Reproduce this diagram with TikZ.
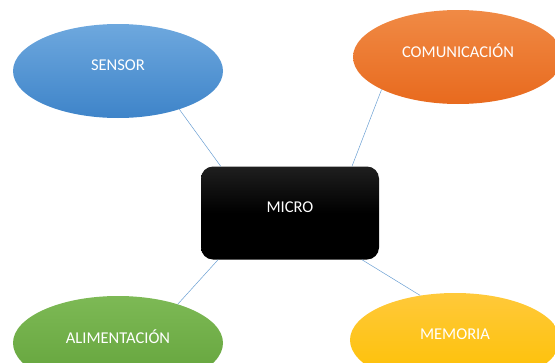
\documentclass[tikz,border=0pt]{standalone}
\usepackage{fontspec}
\setmainfont{Carlito}
\usepackage{tikz}
\usetikzlibrary{positioning,shapes.geometric}
\definecolor{sensorTop}{HTML}{6EA8DE}
\definecolor{sensorBot}{HTML}{3E84C9}
\definecolor{commTop}{HTML}{F08A45}
\definecolor{commBot}{HTML}{E86A1E}
\definecolor{powerTop}{HTML}{7DB955}
\definecolor{powerBot}{HTML}{62A23A}
\definecolor{memTop}{HTML}{FFC93A}
\definecolor{memBot}{HTML}{FDC000}
\definecolor{linkBlue}{HTML}{6A9FD3}

\begin{document}
\begin{tikzpicture}[x=1pt,y=-1pt,node distance=2cm,on grid,
    blob/.style={ellipse,minimum width=210pt,minimum height=94pt,inner sep=0pt,
        text=white,font=\fontsize{16.5}{19}\selectfont,text depth=12pt},
    link/.style={draw=linkBlue,line width=0.5pt}]
            \useasboundingbox (0,0) rectangle (555,362);
            \node[rectangle,rounded corners=12pt,minimum width=178pt,minimum height=93pt,
                top color=black!88,bottom color=black,middle color=black,text=white,
                font=\fontsize{16.5}{19}\selectfont,text depth=12pt] (micro) at (290,213) {MICRO};
            \node[blob,top color=sensorTop,bottom color=sensorBot] (sensor) [above left=142pt and 172pt of micro] {SENSOR};
            \node[blob,top color=commTop,bottom color=commBot] (comm) [above right=156pt and 168pt of micro] {COMUNICACIÓN};
            \node[blob,top color=powerTop,bottom color=powerBot] (power) [below left=130pt and 172pt of micro] {ALIMENTACIÓN};
            \node[blob,top color=memTop,bottom color=memBot] (mem) [below right=127pt and 165pt of micro] {MEMORIA};
            \path[link]
                (sensor.-32) edge (micro.146)
                (comm.203) edge (micro.37)
                (power.33) edge (micro.213)
                (mem.128) edge (micro.-33);
        \end{tikzpicture}
\end{document}
